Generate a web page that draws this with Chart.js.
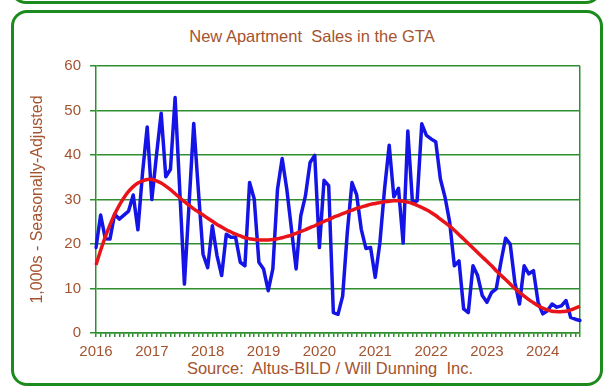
<!DOCTYPE html>
<html>
<head>
<meta charset="utf-8">
<title>New Apartment Sales in the GTA</title>
<script src="https://cdn.jsdelivr.net/npm/chart.js@4.4.1/dist/chart.umd.min.js"></script>
<style>
  html, body { margin: 0; padding: 0; background: #fff; }
  #wrap { position: relative; width: 609px; height: 387px; overflow: hidden; }
  .box { position: absolute; box-sizing: border-box; border: 3px solid #1d8a1d; border-radius: 16px; }
  #prevBox { left: 10px; top: -60px; width: 592px; height: 64px; }
  #mainBox { left: 11px; top: 10px; width: 592px; height: 376px; }
  #salesChart { position: absolute; left: 0; top: 0; }
  .cap { position: absolute; text-align: center; font-family: "Liberation Sans", Arial, sans-serif;
         font-size: 16.5px; color: #a4532f; white-space: pre; }
  #title { left: 15px; width: 594px; top: 27px; }
  #source { left: 51px; width: 558px; top: 359px; }
</style>
</head>
<body>
<div id="wrap">
  <div class="box" id="prevBox"></div>
  <div class="box" id="mainBox"></div>
  <div class="cap" id="title">New Apartment  Sales in the GTA</div>
  <div class="cap" id="source">Source:  Altus-BILD / Will Dunning  Inc.</div>
  <canvas id="salesChart" width="609" height="387"></canvas>
</div>
<script>
// monthly, Jan 2016 .. Sep 2024
const startYear = 2016;
const months = [];
for (let i = 0; i < 105; i++) {
  const y = startYear + Math.floor(i / 12);
  const m = (i % 12) + 1;
  months.push(y + '-' + (m < 10 ? '0' + m : m));
}

// new apartment sales, 1,000s seasonally adjusted
const sales = [
  19.2, 26.5, 21.2, 21.1, 26.7, 25.6, 26.5, 27.4, 31.0, 23.2, 36.0, 46.3,
  30.0, 40.0, 49.4, 35.1, 36.8, 52.9, 32.0, 11.0, 29.0, 47.1, 32.0, 17.7,
  14.7, 24.1, 17.4, 12.9, 22.2, 21.5, 21.5, 15.9, 15.1, 33.8, 30.1, 15.9,
  14.4, 9.5, 14.4, 32.3, 39.2, 32.3, 23.3, 14.4, 26.3, 30.8, 38.3, 39.9,
  19.2, 34.3, 33.1, 4.6, 4.2, 8.3, 22.6, 33.8, 31.1, 23.3, 19.0, 19.2,
  12.5, 20.3, 32.3, 42.2, 30.6, 32.5, 20.2, 45.4, 29.3, 29.7, 47.0, 44.4,
  43.6, 43.0, 34.6, 30.5, 24.9, 15.1, 16.2, 5.4, 4.6, 15.1, 12.9, 8.4,
  6.9, 9.1, 9.9, 15.9, 21.3, 20.0, 11.4, 6.5, 15.1, 13.3, 14.0, 6.9,
  4.3, 5.0, 6.5, 5.8, 6.1, 7.3, 3.5, 3.1, 2.8
];

// smoothed trend
const trend = [
  15.3, 18.6, 21.6, 24.3, 26.7, 28.7, 30.4, 31.8, 32.9, 33.7, 34.2, 34.5,
  34.5, 34.2, 33.7, 33.0, 32.2, 31.3, 30.4, 29.5, 28.7, 27.9, 27.2, 26.5,
  25.8, 25.1, 24.4, 23.8, 23.2, 22.7, 22.2, 21.8, 21.4, 21.2, 21.0, 20.9,
  20.9, 20.9, 21.0, 21.2, 21.4, 21.7, 22.0, 22.4, 22.8, 23.2, 23.7, 24.1,
  24.6, 25.1, 25.5, 26.0, 26.4, 26.8, 27.2, 27.6, 28.0, 28.3, 28.6, 28.9,
  29.1, 29.3, 29.5, 29.6, 29.7, 29.7, 29.6, 29.4, 29.1, 28.7, 28.2, 27.7,
  27.1, 26.4, 25.6, 24.8, 24.0, 23.1, 22.1, 21.1, 20.1, 19.1, 18.1, 17.1,
  16.1, 15.1, 14.0, 13.0, 12.0, 11.0, 10.0, 9.1, 8.3, 7.5, 6.8, 6.1,
  5.6, 5.2, 4.9, 4.8, 4.8, 4.9, 5.2, 5.6, 6.0
];

const yTicks = [0, 10, 20, 30, 40, 50, 60];

const green = '#2f8f2f';
const brown = '#a4532f';
const fontFam = '"Liberation Sans", Arial, sans-serif';

new Chart(document.getElementById('salesChart'), {
  type: 'line',
  data: {
    labels: months,
    datasets: [
      {
        label: 'Sales',
        data: sales,
        borderColor: '#1414e6',
        borderWidth: 3.5,
        borderJoinStyle: 'round',
        borderCapStyle: 'round',
        pointRadius: 0,
        tension: 0,
        order: 1
      },
      {
        label: 'Trend',
        data: trend,
        borderColor: '#e8141a',
        borderWidth: 3.5,
        pointRadius: 0,
        tension: 0.4,
        order: 0
      }
    ]
  },
  options: {
    responsive: false,
    animation: false,
    layout: { padding: { left: 0, right: 29, top: 66, bottom: 30 } },
    plugins: {
      legend: { display: false },
      tooltip: { enabled: false }
    },
    scales: {
      x: {
        type: 'category',
        offset: false,
        afterFit: function(scale) { scale.height = 24; },
        border: { display: true, color: green, width: 1.5 },
        grid: {
          drawOnChartArea: true,
          color: function(ctx) {
            return ctx.index === months.length - 1 ? green : 'rgba(0,0,0,0)';
          },
          tickColor: green,
          tickLength: 4,
          lineWidth: 1.5
        },
        ticks: {
          autoSkip: false,
          maxRotation: 0,
          padding: 6,
          color: brown,
          font: { family: fontFam, size: 15 },
          callback: function(value) {
            const lab = this.getLabelForValue(value);
            return lab.slice(5) === '01' ? lab.slice(0, 4) : '';
          }
        }
      },
      y: {
        min: yTicks[0],
        max: yTicks[yTicks.length - 1],
        afterFit: function(scale) { scale.width = 96; },
        border: { display: true, color: green, width: 1.5 },
        grid: { color: green, lineWidth: 1.5, tickLength: 6 },
        ticks: {
          stepSize: 10,
          padding: 9,
          color: brown,
          font: { family: fontFam, size: 15 }
        },
        title: {
          display: true,
          text: '1,000s - Seasonally-Adjusted',
          color: brown,
          font: { family: fontFam, size: 16 },
          padding: { top: 28, bottom: 0 }
        }
      }
    }
  }
});
</script>
</body>
</html>
